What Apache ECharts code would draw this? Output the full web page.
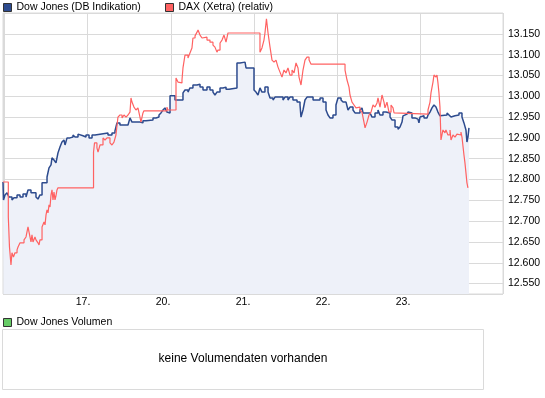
<!DOCTYPE html>
<html>
<head>
<meta charset="utf-8">
<title>Dow Jones / DAX</title>
<script src="https://cdn.jsdelivr.net/npm/echarts@6/dist/echarts.min.js"></script>
<style>
    html, body { margin: 0; padding: 0; background: #fff; }
    #chart { width: 545px; height: 398px; }
</style>
</head>
<body>
<div id="chart"></div>
<script>
// Zeit in Handelstagen ab dem 16. (0 = Beginn 16., 1 = Beginn 17. ...)
var dowTimes = [-0.02, -0.014, 0.004, 0.028, 0.052, 0.088, 0.112, 0.149, 0.185, 0.221, 0.257, 0.281, 0.317, 0.377, 0.401, 0.425,
    0.450, 0.510, 0.534, 0.558, 0.570, 0.594, 0.618, 0.642, 0.666, 0.690, 0.714, 0.727, 0.751, 0.787, 0.823, 0.847,
    0.883, 0.907, 0.943, 0.979, 1.016, 1.052, 1.088, 1.148, 1.172, 1.244, 1.292, 1.328, 1.352, 1.388, 1.485, 1.509,
    1.533, 1.629, 1.665, 1.702, 1.786, 1.822, 1.858, 1.882, 1.906, 1.930, 1.954, 1.978, 1.991, 2.051, 2.087, 2.111,
    2.147, 2.171, 2.207, 2.231, 2.267, 2.316, 2.352, 2.388, 2.436, 2.472, 2.508, 2.532, 2.556, 2.593, 2.629, 2.665,
    2.701, 2.797, 2.833, 2.894, 2.906, 3.002, 3.026, 3.050, 3.074, 3.098, 3.134, 3.171, 3.195, 3.231, 3.255, 3.291,
    3.315, 3.351, 3.375, 3.411, 3.435, 3.471, 3.520, 3.556, 3.568, 3.592, 3.616, 3.640, 3.713, 3.797, 3.833, 3.869,
    3.893, 3.917, 3.953, 3.989, 4.013, 4.050, 4.074, 4.110, 4.134, 4.158, 4.194, 4.218, 4.278, 4.302, 4.315, 4.351,
    4.375, 4.399, 4.423, 4.459, 4.495, 4.519, 4.555, 4.591, 4.640, 4.664, 4.700, 4.736, 4.760, 4.784, 4.796, 4.820,
    4.844, 4.856, 4.880, 4.904, 4.940, 4.976, 4.988, 5.001, 5.025, 5.049, 5.085, 5.097, 5.121, 5.145, 5.169, 5.193,
    5.217, 5.241, 5.265, 5.326, 5.350, 5.374, 5.398, 5.422, 5.446, 5.470, 5.506, 5.530, 5.554, 5.566, 5.578, 5.590];
var dowValues = [12.794, 12.751, 12.763, 12.768, 12.758, 12.751, 12.756, 12.763, 12.758, 12.765, 12.758, 12.775, 12.768, 12.758, 12.753, 12.763,
    12.792, 12.806, 12.828, 12.835, 12.852, 12.847, 12.840, 12.864, 12.878, 12.890, 12.895, 12.883, 12.900, 12.902, 12.907, 12.902,
    12.909, 12.905, 12.902, 12.907, 12.900, 12.907, 12.909, 12.907, 12.912, 12.907, 12.912, 12.917, 12.936, 12.931, 12.933, 12.948,
    12.938, 12.936, 12.941, 12.943, 12.948, 12.950, 12.955, 12.960, 12.967, 12.972, 12.962, 12.960, 13.001, 12.991, 12.989, 12.991,
    13.008, 13.015, 13.010, 13.020, 13.027, 13.029, 13.022, 13.015, 13.022, 13.015, 13.010, 13.003, 13.010, 13.020, 13.022, 13.017,
    13.020, 13.080, 13.082, 13.080, 13.068, 13.015, 13.010, 13.003, 13.020, 13.010, 13.022, 13.010, 12.996, 12.991, 12.998, 12.996,
    12.998, 12.991, 12.998, 12.991, 12.998, 12.991, 12.986, 12.979, 12.950, 12.967, 12.991, 12.998, 12.991, 12.996, 12.986, 12.967,
    12.955, 12.948, 12.955, 12.979, 12.996, 12.991, 12.986, 12.984, 12.967, 12.974, 12.967, 12.960, 12.967, 12.972, 12.960, 12.962,
    12.960, 12.962, 12.950, 12.960, 12.967, 12.955, 12.962, 12.960, 12.950, 12.943, 12.926, 12.921, 12.926, 12.938, 12.953, 12.957,
    12.955, 12.962, 12.960, 12.948, 12.945, 12.948, 12.936, 12.950, 12.953, 12.948, 12.950, 12.955, 12.962, 12.972, 12.979, 12.974,
    12.962, 12.953, 12.955, 12.960, 12.955, 12.950, 12.953, 12.957, 12.955, 12.960, 12.950, 12.936, 12.919, 12.890, 12.902, 12.924];

var daxTimes = [-0.02, 0.044, 0.058, 0.076, 0.088, 0.106, 0.124, 0.149, 0.161, 0.185, 0.233, 0.257, 0.269, 0.281, 0.293, 0.305,
    0.317, 0.329, 0.341, 0.365, 0.377, 0.401, 0.414, 0.425, 0.450, 0.474, 0.486, 0.498, 0.510, 0.522, 0.534, 0.546,
    0.558, 0.570, 0.582, 0.594, 0.606, 0.618, 0.630, 0.642, 1.070, 1.082, 1.111, 1.124, 1.148, 1.184, 1.208, 1.232,
    1.268, 1.292, 1.316, 1.340, 1.364, 1.388, 1.413, 1.437, 1.461, 1.485, 1.509, 1.521, 1.533, 1.557, 1.581, 1.605,
    1.629, 1.641, 1.665, 1.677, 1.954, 1.966, 2.063, 2.075, 2.087, 2.111, 2.135, 2.147, 2.171, 2.207, 2.231, 2.255,
    2.267, 2.292, 2.316, 2.328, 2.352, 2.376, 2.388, 2.436, 2.472, 2.508, 2.532, 2.556, 2.568, 2.593, 2.617, 2.641,
    2.665, 2.689, 3.074, 3.098, 3.122, 3.134, 3.152, 3.171, 3.195, 3.219, 3.243, 3.267, 3.291, 3.315, 3.339, 3.363,
    3.387, 3.411, 3.435, 3.460, 3.484, 3.508, 3.532, 3.544, 3.568, 3.592, 3.616, 3.640, 3.665, 3.689, 4.098, 4.122,
    4.146, 4.158, 4.182, 4.206, 4.230, 4.254, 4.278, 4.302, 4.326, 4.339, 4.363, 4.387, 4.411, 4.435, 4.459, 4.483,
    4.495, 4.519, 4.543, 4.567, 4.579, 4.603, 4.627, 4.652, 4.676, 4.688, 4.700, 5.097, 5.121, 5.133, 5.157, 5.169,
    5.193, 5.205, 5.217, 5.229, 5.241, 5.247, 5.253, 5.277, 5.301, 5.313, 5.337, 5.362, 5.374, 5.398, 5.422, 5.446,
    5.470, 5.494, 5.506, 5.530, 5.542, 5.554, 5.566, 5.578];
var daxValues = [12.794, 12.710, 12.638, 12.595, 12.624, 12.614, 12.624, 12.631, 12.638, 12.648, 12.655, 12.662, 12.674, 12.686, 12.674, 12.662,
    12.650, 12.667, 12.650, 12.662, 12.655, 12.648, 12.643, 12.655, 12.686, 12.698, 12.691, 12.715, 12.727, 12.720, 12.739, 12.734,
    12.763, 12.775, 12.751, 12.770, 12.751, 12.761, 12.775, 12.780, 12.866, 12.888, 12.876, 12.866, 12.883, 12.900, 12.895, 12.900,
    12.888, 12.883, 12.890, 12.907, 12.950, 12.955, 12.948, 12.955, 12.950, 12.955, 12.962, 12.996, 12.986, 12.974, 12.967, 12.972,
    12.950, 12.938, 12.960, 12.965, 12.974, 12.967, 13.044, 13.046, 13.034, 13.032, 13.039, 13.068, 13.099, 13.092, 13.104, 13.116,
    13.140, 13.145, 13.154, 13.159, 13.147, 13.140, 13.142, 13.135, 13.130, 13.123, 13.118, 13.106, 13.111, 13.128, 13.135, 13.147,
    13.130, 13.152, 13.106, 13.116, 13.135, 13.152, 13.186, 13.152, 13.118, 13.087, 13.082, 13.087, 13.070, 13.058, 13.046, 13.063,
    13.056, 13.068, 13.051, 13.063, 13.056, 13.080, 13.068, 13.046, 13.027, 13.063, 13.087, 13.094, 13.087, 13.077, 13.063, 13.039,
    13.022, 13.003, 12.986, 12.979, 12.972, 12.974, 12.967, 12.962, 12.938, 12.924, 12.938, 12.955, 12.962, 12.979, 12.974, 12.984,
    12.996, 12.974, 13.003, 12.986, 12.972, 12.986, 12.962, 12.979, 12.972, 12.960, 12.957, 12.967, 12.986, 13.008, 13.034, 13.051,
    13.046, 13.051, 13.032, 13.008, 12.974, 12.936, 12.895, 12.919, 12.912, 12.919, 12.907, 12.919, 12.895, 12.907, 12.902, 12.909,
    12.907, 12.914, 12.902, 12.859, 12.840, 12.816, 12.792, 12.780];

var xTickLabels = ['', '17.', '20.', '21.', '22.', '23.', ''];

var FONT = 'Liberation Sans, Arial, sans-serif';
var GRID_COLOR = '#dadada';

function pairs(times, values) {
    var out = [];
    for (var i = 0; i < times.length; i++) {
        out.push([times[i], values[i]]);
    }
    return out;
}

var option = {
    animation: false,
    textStyle: { fontFamily: FONT },
    legend: [
        {
            left: 3, top: 2, padding: 0,
            icon: 'rect', itemWidth: 8, itemHeight: 8,
            itemStyle: { borderColor: '#333', borderWidth: 1 },
            textStyle: { fontSize: 10.5, color: '#000', fontFamily: FONT },
            data: ['Dow Jones (DB Indikation)']
        },
        {
            left: 165, top: 2, padding: 0,
            icon: 'rect', itemWidth: 8, itemHeight: 8,
            itemStyle: { borderColor: '#333', borderWidth: 1 },
            textStyle: { fontSize: 10.5, color: '#000', fontFamily: FONT },
            data: ['DAX (Xetra) (relativ)']
        },
        {
            left: 3, top: 317, padding: 0,
            icon: 'rect', itemWidth: 8, itemHeight: 8,
            itemStyle: { borderColor: '#333', borderWidth: 1 },
            textStyle: { fontSize: 10.5, color: '#000', fontFamily: FONT },
            data: ['Dow Jones Volumen']
        }
    ],
    grid: [
        { left: 3, right: 42, top: 13, bottom: 104, show: true, borderColor: GRID_COLOR, borderWidth: 1 },
        { left: 2.5, top: 329.5, width: 481, height: 60, show: true, borderColor: GRID_COLOR, borderWidth: 1 }
    ],
    xAxis: [
        {   // Datenachse mit Tagesgrenzen
            type: 'value', gridIndex: 0, min: -0.02, max: 6, splitNumber: 6,
            axisLine: { show: false }, axisTick: { show: false }, axisLabel: { show: false },
            splitLine: { show: true, lineStyle: { color: GRID_COLOR, width: 1 } }
        },
        {   // nur fuer die Tagesbeschriftung
            type: 'value', gridIndex: 0, position: 'bottom', min: 0, max: 6.25, interval: 1,
            axisLine: { show: false }, axisTick: { show: false }, splitLine: { show: false },
            axisLabel: {
                margin: 3, fontSize: 10.5, color: '#000', fontFamily: FONT,
                formatter: function (v) { return xTickLabels[Math.round(v)] || ''; }
            }
        },
        { type: 'value', gridIndex: 1, show: false }
    ],
    yAxis: [
        {
            type: 'value', gridIndex: 0, position: 'right', min: 12.525, max: 13.2, splitNumber: 13,
            axisLine: { show: true, lineStyle: { color: GRID_COLOR } },
            axisTick: { show: false },
            splitLine: { show: true, lineStyle: { color: GRID_COLOR, width: 1 } },
            axisLabel: {
                margin: 5, fontSize: 10.5, color: '#000', fontFamily: FONT,
                showMinLabel: false, showMaxLabel: false,
                formatter: function (v) { return v.toFixed(3); }
            }
        },
        { type: 'value', gridIndex: 1, show: false }
    ],
    graphic: [
        {
            type: 'text', x: 243, y: 359,
            style: {
                text: 'keine Volumendaten vorhanden',
                font: '12px Liberation Sans, Arial, sans-serif',
                fill: '#000', align: 'center', verticalAlign: 'middle'
            }
        }
    ],
    series: [
        {
            name: 'Dow Jones (DB Indikation)', type: 'line', xAxisIndex: 0, yAxisIndex: 0,
            step: 'end', showSymbol: false, symbol: 'none',
            color: '#2d4b8e',
            lineStyle: { color: '#2d4b8e', width: 1.5 },
            areaStyle: { color: '#eef1f9', opacity: 1 },
            data: pairs(dowTimes, dowValues)
        },
        {
            name: 'DAX (Xetra) (relativ)', type: 'line', xAxisIndex: 0, yAxisIndex: 0,
            step: 'end', showSymbol: false, symbol: 'none',
            color: '#ff6262',
            lineStyle: { color: '#ff6262', width: 1.2 },
            data: pairs(daxTimes, daxValues)
        },
        {
            name: 'Dow Jones Volumen', type: 'bar', xAxisIndex: 2, yAxisIndex: 1,
            color: '#66cc66', data: []
        }
    ]
};

echarts.init(document.getElementById('chart')).setOption(option);
</script>
</body>
</html>
